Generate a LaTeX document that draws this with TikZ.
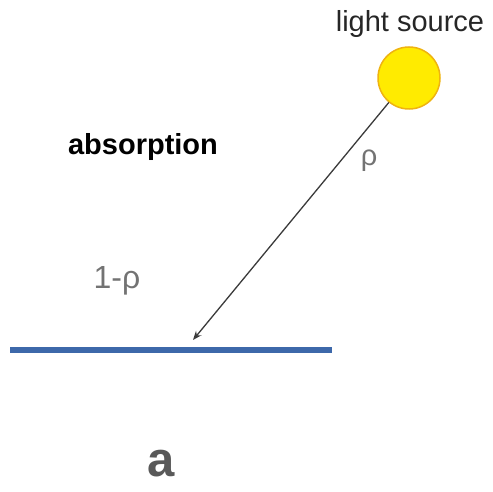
\documentclass[tikz,border=0pt]{standalone}
\usepackage{fontspec}
\setmainfont{Liberation Sans}
\usetikzlibrary{arrows.meta}
\definecolor{sunfill}{HTML}{FFEB00}
\definecolor{sunedge}{HTML}{EFB310}
\definecolor{surf}{HTML}{3D68AA}
\definecolor{ray}{HTML}{3A3A3A}
\tikzset{
  lbl/.style={inner sep=0pt,font=\fontsize{29}{32}\selectfont},
  graylbl/.style={lbl,text=black!55},
  sun/.style={circle,fill=sunfill,draw=sunedge,line width=1.5pt,minimum size=62pt,inner sep=0pt},
  rayarrow/.style={draw=ray,line width=1.3pt,-{Stealth[length=9pt,width=7pt]}},
  surface/.style={draw=surf,line width=6.5pt}
}
\begin{document}
\begin{tikzpicture}[x=1pt,y=1pt]
\useasboundingbox (0,0) rectangle (493,491);
\node[sun] (sunc) at (409,413) {};
\node[lbl,text=black!85] (ls) at (410,467) {light source};
\node[lbl,font=\fontsize{29}{32}\selectfont\bfseries] (abs) at (143,344) {absorption};
\node[graylbl,font=\fontsize{32}{36}\selectfont] (omr) at (117,210) {1-ρ};
\node[graylbl] (rho) at (369,330) {ρ};
\node[inner sep=0pt,text=black!65,font=\fontsize{49}{52}\selectfont\bfseries] (lab) at (161,27) {a};
\coordinate (L1) at (10,141);
\coordinate (L2) at (332,141);
\coordinate (hit) at (193,151);
\draw[surface] (L1) -- (L2);
\draw[rayarrow] (sunc) -- (hit);
\end{tikzpicture}
\end{document}
